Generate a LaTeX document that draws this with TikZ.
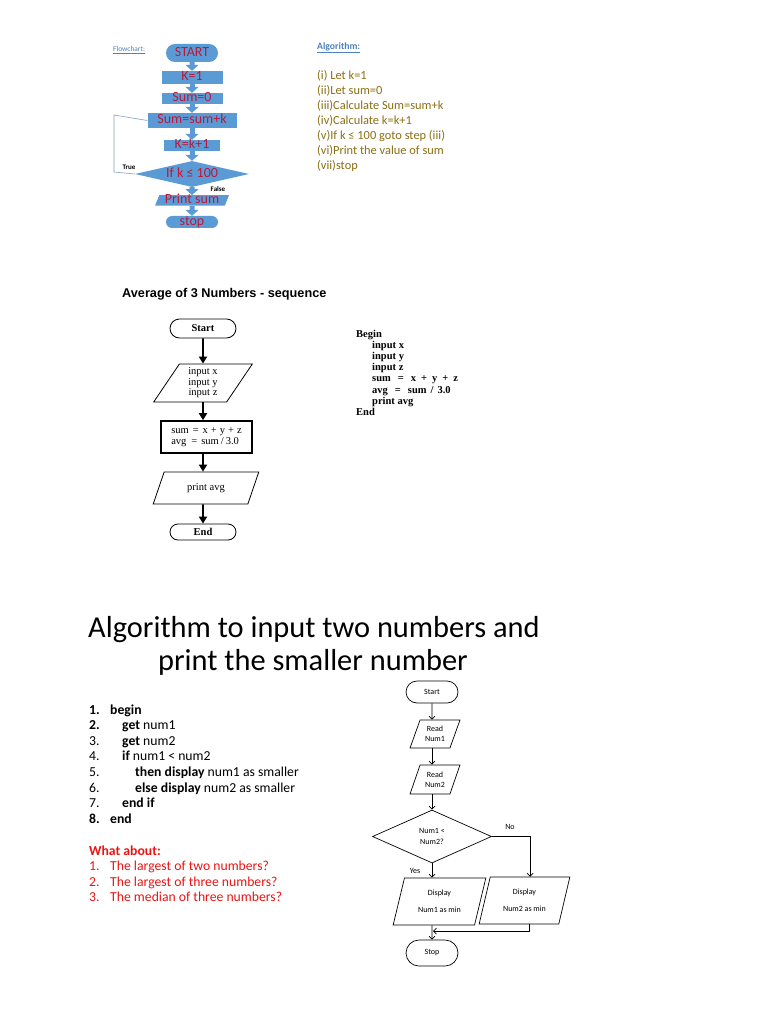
\documentclass[tikz,border=0pt]{standalone}
\usepackage{fontspec}
\setmainfont{Carlito}
\newfontfamily\chartserif{Liberation Serif}
\newfontfamily\headsans{Liberation Sans}
\usepackage{xcolor}
\usetikzlibrary{arrows.meta, positioning, shapes.geometric, shapes.misc, calc}

\definecolor{flowblue}{RGB}{91,155,213}
\definecolor{flowred}{RGB}{185,25,60}
\definecolor{algoolive}{RGB}{140,110,20}
\definecolor{labelblue}{RGB}{79,129,189}
\definecolor{loopgray}{RGB}{130,160,190}
\definecolor{askred}{RGB}{235,20,20}

\begin{document}
\begin{tikzpicture}[
    x=1pt, y=-1pt,
    topbox/.style={fill=flowblue, rectangle, inner sep=0pt, text=flowred, font=\fontsize{14}{15}\selectfont, text height=8.5pt, text depth=2pt},
    topterm/.style={topbox, rounded rectangle, minimum width=52, minimum height=18},
    topcond/.style={topbox, diamond, aspect=4.4, minimum width=114, minimum height=26},
    topio/.style={topbox, trapezium, trapezium left angle=72, trapezium right angle=108, trapezium stretches=true, minimum width=74, minimum height=10},
    toparrow/.style={draw=flowblue, line width=5pt, -{Triangle[width=13pt, length=6pt]}},
    loopline/.style={draw=loopgray, line width=0.6pt},
    tinylabel/.style={font=\bfseries\fontsize{7}{8}\selectfont, inner sep=0pt},
    algoline/.style={anchor=base west, inner sep=0pt, text=algoolive, font=\fontsize{12.4}{14}\selectfont},
    midterm/.style={draw, rounded rectangle, line width=0.8pt, minimum width=66, minimum height=19, inner sep=0pt, font=\chartserif\bfseries\fontsize{10.5}{11}\selectfont},
    midio/.style={draw, trapezium, trapezium left angle=62, trapezium right angle=118, trapezium stretches=true, line width=0.8pt, inner sep=0pt, align=center, font=\chartserif\fontsize{10.5}{10.5}\selectfont},
    midproc/.style={draw, rectangle, line width=1.6pt, minimum width=91, minimum height=32, inner sep=0pt, align=left, font=\chartserif\fontsize{10.5}{11}\selectfont},
    midarrow/.style={draw, line width=1.8pt, -{Triangle[width=8pt, length=7pt]}},
    pseudo/.style={anchor=base west, inner sep=0pt, font=\chartserif\bfseries\fontsize{10.5}{11}\selectfont},
    stepline/.style={anchor=base west, inner sep=0pt, font=\fontsize{13.7}{15}\selectfont},
    rterm/.style={draw, rounded rectangle, line width=0.7pt, minimum width=52, minimum height=22, inner sep=0pt, font=\fontsize{8}{9}\selectfont},
    rio/.style={draw, trapezium, trapezium stretches=true, line width=0.7pt, inner sep=0pt, align=center, font=\fontsize{8}{10}\selectfont},
    rcond/.style={draw, diamond, aspect=2.2, line width=0.7pt, minimum width=119, minimum height=53, inner sep=0pt, align=center, font=\fontsize{8}{11}\selectfont},
    rarrow/.style={draw, line width=0.7pt, -{Straight Barb[length=3pt, width=6pt]}},
    rlabel/.style={inner sep=0pt, font=\fontsize{8}{9}\selectfont}
]
    \useasboundingbox[fill=white] (0,0) rectangle (768,1024);

    % Flowchart and algorithm (top)
    \node[anchor=west, inner sep=0pt, text=labelblue, font=\fontsize{7.4}{8}\selectfont] (flowlbl) at (113,50) {\underline{Flowchart:}};
    \node[topterm] (tstart) at (192,53) {START};
    \node[topbox, minimum width=61, minimum height=13] (tkone) at (192,77.5) {K=1};
    \node[topbox, minimum width=61, minimum height=11] (tsum) at (192,98.5) {Sum=0};
    \node[topbox, minimum width=89, minimum height=15] (tadd) at (192,120.5) {Sum=sum+k};
    \node[topbox, minimum width=56, minimum height=11] (tinc) at (192,145.5) {K=k+1};
    \node[topcond] (tcond) at (192,174) {If k ≤ 100};
    \node[topio] (tprint) at (192,200.5) {Print sum};
    \node[topterm, minimum height=12] (tstop) at (192,222) {stop};
    \coordinate (tloopA) at (114,115);
    \coordinate (tloopB) at (114,172);
    \node[tinylabel] (ttrue) at (129,167) {True};
    \node[tinylabel] (tfalse) at (218,189) {False};

    \draw[toparrow] (tstart) -- (tkone);
    \draw[toparrow] (tkone) -- (tsum);
    \draw[toparrow] (tsum) -- (tadd);
    \draw[toparrow] (tadd) -- (tinc);
    \draw[toparrow] (tinc) -- (tcond);
    \draw[toparrow] (tcond) -- (tprint);
    \draw[toparrow] (tprint) -- (tstop);
    \draw[loopline] (tadd.west) -- (tloopA) -- (tloopB) -- (tcond.west);

    \node[anchor=west, inner sep=0pt, text=labelblue, font=\bfseries\fontsize{9.7}{10}\selectfont] (algolbl) at (317,48) {\underline{Algorithm:}};
    \node[algoline] (aone) at (317,80) {(i) Let k=1};
    \node[algoline] (atwo) at (317,95) {(ii)Let sum=0};
    \node[algoline] (athree) at (317,110) {(iii)Calculate Sum=sum+k};
    \node[algoline] (afour) at (317,125) {(iv)Calculate k=k+1};
    \node[algoline] (afive) at (317,140) {(v)If k ≤ 100 goto step (iii)};
    \node[algoline] (asix) at (317,155) {(vi)Print the value of sum};
    \node[algoline] (aseven) at (317,170) {(vii)stop};

    % Average of 3 numbers (middle)
    \node[anchor=base west, inner sep=0pt, font=\headsans\bfseries\fontsize{12.7}{14}\selectfont] (avgtitle) at (122,297) {Average of 3 Numbers - sequence};
    \node[midterm] (mstart) at (203,328.5) {Start};
    \node[midio, minimum width=99, minimum height=38] (minput) at (203,383) {input x\\input y\\input z};
    \node[midproc] (mcalc) at (206.5,437) {sum\hspace{4pt}=\hspace{4pt}x\hspace{3pt}+\hspace{3pt}y\hspace{3pt}+\hspace{3pt}z\\avg\hspace{5pt}=\hspace{4pt}sum\hspace{2pt}/\hspace{2pt}3.0};
    \node[midio, minimum width=106, minimum height=32] (mprint) at (206,488) {print avg};
    \node[midterm, minimum height=16] (mend) at (203,532) {End};

    \draw[midarrow] (mstart) -- (minput);
    \draw[midarrow] (minput.south) -- (minput.south |- mcalc.north);
    \draw[midarrow] (minput.south |- mcalc.south) -- (minput.south |- mprint.north);
    \draw[midarrow] (mend.north |- mprint.south) -- (mend);

    \node[pseudo] (pbegin) at (356,337) {Begin};
    \node[pseudo] (pinx) at (372,348.2) {input x};
    \node[pseudo] (piny) at (372,359.4) {input y};
    \node[pseudo] (pinz) at (372,370.6) {input z};
    \node[pseudo] (psum) at (372,381.8) {sum\hspace{7pt}=\hspace{7pt}x\hspace{5pt}+\hspace{5pt}y\hspace{5pt}+\hspace{5pt}z};
    \node[pseudo] (pavg) at (372,393) {avg\hspace{7pt}=\hspace{7pt}sum\hspace{4pt}/\hspace{4pt}3.0};
    \node[pseudo] (pprint) at (372,404.2) {print avg};
    \node[pseudo] (pend) at (356,415.4) {End};

    % Smaller of two numbers (bottom)
    \node[anchor=base, inner sep=0pt, font=\fontsize{30.4}{33}\selectfont] (titleA) at (314,637) {Algorithm to input two numbers and};
    \node[anchor=base, inner sep=0pt, font=\fontsize{30.4}{33}\selectfont] (titleB) at (313,670) {print the smaller number};

    \node[stepline] (sone) at (89,714) {\textbf{1.}};
    \node[stepline] (soneT) at (110,714) {\textbf{begin}};
    \node[stepline] (stwo) at (89,729.6) {\textbf{2.}};
    \node[stepline] (stwoT) at (122,729.6) {\textbf{get} num1};
    \node[stepline] (sthree) at (89,745.2) {3.};
    \node[stepline] (sthreeT) at (122,745.2) {\textbf{get} num2};
    \node[stepline] (sfour) at (89,760.8) {4.};
    \node[stepline] (sfourT) at (122,760.8) {\textbf{if} num1 < num2};
    \node[stepline] (sfive) at (89,776.4) {5.};
    \node[stepline] (sfiveT) at (135,776.4) {\textbf{then display} num1 as smaller};
    \node[stepline] (ssix) at (89,792) {6.};
    \node[stepline] (ssixT) at (135,792) {\textbf{else display} num2 as smaller};
    \node[stepline] (sseven) at (89,807.6) {7.};
    \node[stepline] (ssevenT) at (122,807.6) {\textbf{end if}};
    \node[stepline] (seight) at (89,823.2) {\textbf{8.}};
    \node[stepline] (seightT) at (110,823.2) {\textbf{end}};

    \node[stepline, text=askred] (askhead) at (89,855) {\textbf{What about:}};
    \node[stepline, text=askred] (askone) at (89,870.6) {1.};
    \node[stepline, text=askred] (askoneT) at (110,870.6) {The largest of two numbers?};
    \node[stepline, text=askred] (asktwo) at (89,886.2) {2.};
    \node[stepline, text=askred] (asktwoT) at (110,886.2) {The largest of three numbers?};
    \node[stepline, text=askred] (askthree) at (89,901.8) {3.};
    \node[stepline, text=askred] (askthreeT) at (110,901.8) {The median of three numbers?};

    \node[rterm] (rstart) at (432,692) {Start};
    \node[rio, trapezium left angle=67, trapezium right angle=113, minimum width=50, minimum height=28] (rreadA) at (435,734) {Read\\Num1};
    \node[rio, trapezium left angle=67, trapezium right angle=113, minimum width=50, minimum height=29] (rreadB) at (435,779.5) {Read\\Num2};
    \node[rcond] (rcomp) at (432,836.5) {Num1 <\\Num2?};
    \node[rio, trapezium left angle=73, trapezium right angle=107, minimum width=93, minimum height=47, font=\fontsize{8}{17}\selectfont] (rshowA) at (439.5,901.5) {Display\\Num1 as min};
    \node[rio, trapezium left angle=73, trapezium right angle=107, minimum width=91, minimum height=47, font=\fontsize{8}{17}\selectfont] (rshowB) at (524.5,900.5) {Display\\Num2 as min};
    \node[rterm, minimum height=26] (rstop) at (432,953) {Stop};
    \node[rlabel] (rno) at (510,827) {No};
    \node[rlabel] (ryes) at (415,871) {Yes};
    \coordinate (rjoin) at (433,931);

    \draw[rarrow] (rstart) -- (rstart.south |- rreadA.north);
    \draw[rarrow] (rstart.south |- rreadA.south) -- (rstart.south |- rreadB.north);
    \draw[rarrow] (rstart.south |- rreadB.south) -- (rcomp);
    \draw[rarrow] (rcomp.south) -- (rcomp.south |- rshowA.north);
    \draw[rarrow] (rcomp.east) -| (rshowB.top side);
    \draw[rarrow] ([xshift=10pt]rshowB.bottom side) |- (rjoin);
    \draw[rarrow] (rstop.north |- rshowA.south) -- (rstop);

\end{tikzpicture}
\end{document}
